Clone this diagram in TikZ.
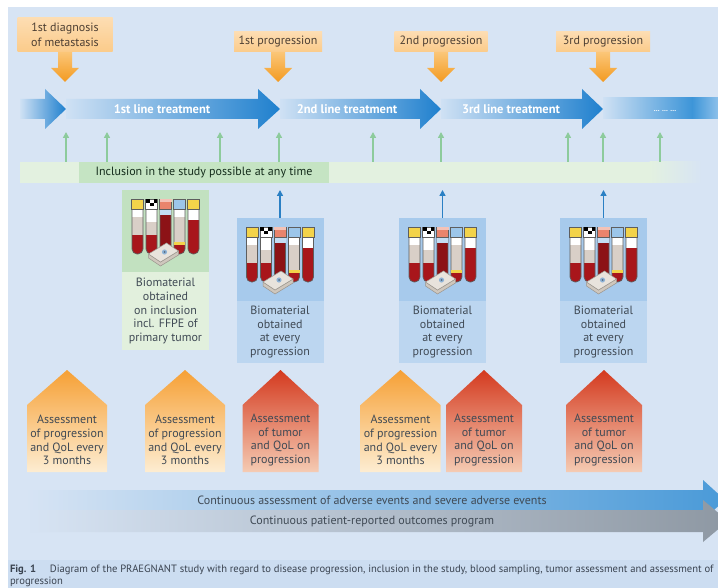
\documentclass[tikz,border=0pt]{standalone}
\usepackage{fontspec}
\setmainfont{PT Sans}
\usetikzlibrary{arrows.meta}

% palette
\definecolor{bg}{HTML}{D7E4F4}
\definecolor{capbg}{HTML}{CCDDF1}
\definecolor{lblA}{HTML}{FDDDB2}
\definecolor{lblB}{HTML}{FBCB8A}
\definecolor{arrA}{HTML}{FBC678}
\definecolor{arrB}{HTML}{F39A20}
\definecolor{tlight}{HTML}{CFE1F4}
\definecolor{tdark}{HTML}{1F80CE}
\definecolor{tmid}{HTML}{3D95D8}
\definecolor{tend}{HTML}{8CC0EA}
\definecolor{gArrow}{HTML}{8DCB9C}
\definecolor{inclLight}{HTML}{E3F1E0}
\definecolor{inclDark}{HTML}{C5E4C3}
\definecolor{bArrow}{HTML}{2B80C4}
\definecolor{bioGimg}{HTML}{C2E1C0}
\definecolor{bioGtxt}{HTML}{E2F0DD}
\definecolor{bioBimg}{HTML}{A7CAEC}
\definecolor{bioBtxt}{HTML}{BCD6F0}
\definecolor{oTop}{HTML}{F6A035}
\definecolor{oMid}{HTML}{FCD9A2}
\definecolor{oBot}{HTML}{FDEDD2}
\definecolor{rTop}{HTML}{D43A1F}
\definecolor{rMid}{HTML}{EC9C7C}
\definecolor{rBot}{HTML}{F5CBB3}
\definecolor{aeBlue}{HTML}{4A9AD8}
\definecolor{proGray}{HTML}{8E98A3}
\definecolor{txt}{HTML}{404A55}
\definecolor{lbltxt}{HTML}{4D3F33}
\definecolor{captxt}{HTML}{3A4350}
\definecolor{capYellow}{HTML}{F3D34A}
\definecolor{capSalmon}{HTML}{E9846C}
\definecolor{capBlue}{HTML}{9CC6EA}
\definecolor{pale}{HTML}{D9CFC7}
\definecolor{blood}{HTML}{A8161B}
\definecolor{bloodDark}{HTML}{8C1216}
\definecolor{tubeEdge}{HTML}{5E5E5E}
\definecolor{cassTop}{HTML}{E8E3DC}
\definecolor{cassSide}{HTML}{CFC7BD}
\definecolor{cassEdge}{HTML}{9A948C}
\definecolor{spot}{HTML}{8FB3D6}

\newcommand\fsz[2]{\fontsize{#1}{#2}\selectfont}

% one sample tube: #1 x offset, #2 cap colour, #3 end of clear part,
% #4 end of pale part, #5 blood colour
\newcommand\sampletube[5]{%
  \begin{scope}
    \clip (#1-5.5,17) [rounded corners=5pt] -- (#1-5.5,64) -- (#1+5.5,64)
          [sharp corners] -- (#1+5.5,17) -- cycle;
    \fill[white] (#1-6,17) rectangle (#1+6,#3);
    \fill[pale] (#1-6,#3) rectangle (#1+6,#4);
    \fill[#5] (#1-6,#4) rectangle (#1+6,66);
  \end{scope}
  \draw[tubeline] (#1-5.5,17) [rounded corners=5pt] -- (#1-5.5,64) -- (#1+5.5,64)
        [sharp corners] -- (#1+5.5,17);
  \fill[#2] (#1-6,9) rectangle (#1+6,19);
  \draw[tubeline] (#1-6,9) rectangle (#1+6,19);
}

% set of five tubes plus a tissue cassette, hung below a given anchor
\newcommand\bioTubes[1]{%
  \begin{scope}[shift={(#1)}]
    \sampletube{-28}{capYellow}{27}{45}{blood}
    \sampletube{-14}{white}{32}{45}{blood}
    \fill[black] (-20,9) rectangle (-16,13);
    \fill[black] (-12,9) rectangle (-8.5,13);
    \fill[black] (-16,13) rectangle (-12,16);
    \sampletube{0}{capSalmon}{25}{25}{bloodDark}
    \fill[capBlue!60!white] (-5.5,20) rectangle (5.5,25);
    \fill[capSalmon!50!white] (-6,9) rectangle (6,12);
    \sampletube{14}{capBlue}{27}{52}{blood}
    \fill[capYellow] (8.5,52) rectangle (19.5,55);
    \sampletube{28}{capYellow}{30}{30}{blood}
    \begin{scope}[shift={(-2,62)}]
      \filldraw[fill=cassSide, draw=cassEdge, line width=0.5pt]
        (-15,2) -- (-3,10) -- (15,-1) -- (15,3) -- (-3,14) -- (-15,6) -- cycle;
      \filldraw[fill=cassTop, draw=cassEdge, line width=0.5pt]
        (-15,2) -- (3,-9) -- (15,-1) -- (-3,10) -- cycle;
      \fill[spot] (1,0) circle (2.6pt);
      \fill[spot!60!black] (1,0) circle (1pt);
    \end{scope}
  \end{scope}
}

% orange arrow hanging below a label
\newcommand\dropArrow[1]{%
  \shade[top color=arrA, bottom color=arrB]
    ([xshift=-7pt]#1.south) -- ++(0,16) -- ++(-7,0) -- ++(14,14)
    -- ++(14,-14) -- ++(-7,0) -- ++(0,-16) -- cycle;
}

% house-shaped assessment box: #1 centre x, #2 half width, #3 colour prefix
\newcommand\houseShape[3]{%
  \shade[top color=#3Top, middle color=#3Mid, bottom color=#3Bot]
    (#1-#2,472) -- (#1-#2,405) -- (#1,370) -- (#1+#2,405) -- (#1+#2,472) -- cycle;
}

\tikzset{
  toplabel/.style={shade, top color=lblA, bottom color=lblB, text=lbltxt,
    align=center, font=\fsz{12}{14.5}, minimum height=20pt},
  treatlabel/.style={text=white, font=\bfseries\fsz{12.5}{14}},
  inclarrow/.style={draw=gArrow, line width=1.6pt,
    -{Triangle[width=6pt,length=6pt]}},
  bioarrow/.style={draw=bArrow, line width=1.6pt,
    -{Triangle[width=6pt,length=6pt]}, shorten >=7pt},
  bioimg/.style={minimum width=87pt},
  biotext/.style={minimum width=87pt, anchor=north, text=txt, align=center,
    font=\fsz{12}{13.8}},
  housetext/.style={text=txt, align=center, font=\fsz{12}{13.7}},
  bandtext/.style={text=txt, font=\fsz{12}{14}},
  tubeline/.style={draw=tubeEdge, line width=0.7pt},
  captext/.style={anchor=base west, text=captxt, font=\fsz{10.6}{12}},
}

\begin{document}
\begin{tikzpicture}[x=1pt, y=-1pt, every node/.append style={inner sep=0pt, outer sep=0pt}]
\useasboundingbox (0,0) rectangle (718,588);
\clip (0,0) rectangle (718,588);
\fill[white] (0,0) rectangle (718,588);
\fill[bg] (8,7) rectangle (718,560);
\fill[capbg] (8,560) rectangle (718,588);

% ---------- events on top ----------
\node[toplabel, minimum width=95pt, minimum height=34pt] (diag) at (65,35)
  {1st diagnosis\\of metastasis};
\node[toplabel, minimum width=88pt] (prog1) at (278,42) {1st progression};
\node[toplabel, minimum width=93pt] (prog2) at (441,42) {2nd progression};
\node[toplabel, minimum width=94pt] (prog3) at (603,42) {3rd progression};
\dropArrow{diag}
\dropArrow{prog1}
\dropArrow{prog2}
\dropArrow{prog3}

% ---------- treatment lines ----------
\shade[left color=tlight, right color=tdark]
  (20,99) -- (45,99) -- (45,89) -- (66,109) -- (45,129) -- (45,119) -- (20,119) -- cycle;
\shade[left color=tlight, right color=tdark]
  (66,99) -- (258,99) -- (258,89) -- (280,109) -- (258,129) -- (258,119) -- (66,119) -- cycle;
\shade[left color=tlight, right color=tdark]
  (280,99) -- (420,99) -- (420,89) -- (441,109) -- (420,129) -- (420,119) -- (280,119) -- cycle;
\shade[left color=tlight, right color=tdark]
  (441,99) -- (582,99) -- (582,89) -- (603,109) -- (582,129) -- (582,119) -- (441,119) -- cycle;
\shade[left color=tlight, right color=tmid] (603,98) rectangle (692,119);
\shade[left color=tmid, right color=tend] (692,98) rectangle (718,119);
\node[treatlabel] (line1) at (162,109) {1st line treatment};
\node[treatlabel] (line2) at (347,109) {2nd line treatment};
\node[treatlabel] (line3) at (511,109) {3rd line treatment};
\node[treatlabel, font=\bfseries\fsz{7.5}{8}] (line4) at (665,111) {... ... ...};
\coordinate (treatbase) at (0,132);

% ---------- inclusion ----------
\node[fill=inclLight, minimum width=630pt, minimum height=21pt] (inclband) at (335,172.5) {};
\shade[left color=inclLight, right color=bg] (649.5,162) rectangle (702,183);
\node[fill=inclDark, minimum width=250pt, minimum height=21pt, text=txt!80!green!40!black,
  font=\fsz{12}{14}] (incltext) at (204,172.5) {Inclusion in the study possible at any time};
\foreach \gx in {66,107,220,279,373,441,568,603,660}
  \draw[inclarrow] (\gx,0 |- inclband.north) -- (\gx,0 |- treatbase);

% ---------- biomaterial ----------
\node[bioimg, fill=bioGimg, minimum height=82pt] (bio1img) at (165.5,231) {};
\node[biotext, fill=bioGtxt, minimum height=78pt] (bio1txt) at (bio1img.south)
  {Biomaterial\\obtained\\on inclusion\\incl. FFPE of\\primary tumor};
\bioTubes{bio1img.north}

\foreach \n/\bx in {2/280, 3/442.5, 4/603.5}{
  \node[bioimg, fill=bioBimg, minimum height=83pt] (bio\n img) at (\bx,259.5) {};
  \node[biotext, fill=bioBtxt, minimum height=62pt] (bio\n txt) at (bio\n img.south)
    {Biomaterial\\obtained\\at every\\progression};
  \bioTubes{bio\n img.north}
  \draw[bioarrow] (bio\n img.north) -- (bio\n img.north |- inclband.south);
}

% ---------- assessments ----------
\houseShape{67}{40}{o}
\houseShape{185}{40}{o}
\houseShape{280.5}{38}{r}
\houseShape{400.5}{40}{o}
\houseShape{484}{38}{r}
\houseShape{604}{38}{r}
\node[housetext] (as1) at (67,440) {Assessment\\of progression\\and QoL every\\3 months};
\node[housetext] (as2) at (185,440) {Assessment\\of progression\\and QoL every\\3 months};
\node[housetext] (as3) at (280.5,440) {Assessment\\of tumor\\and QoL on\\progression};
\node[housetext] (as4) at (400.5,440) {Assessment\\of progression\\and QoL every\\3 months};
\node[housetext] (as5) at (484,440) {Assessment\\of tumor\\and QoL on\\progression};
\node[housetext] (as6) at (604,440) {Assessment\\of tumor\\and QoL on\\progression};

% ---------- continuous programmes ----------
\shade[left color=bg, right color=aeBlue]
  (25,490) -- (703,490) -- (703,480) -- (725,500) -- (703,520) -- (703,510) -- (25,510) -- cycle;
\node[bandtext] (ae) at (372,500)
  {Continuous assessment of adverse events and severe adverse events};
\shade[left color=bg, right color=proGray]
  (25,510) -- (703,510) -- (703,500) -- (728,521) -- (703,542) -- (703,532) -- (25,532) -- cycle;
\node[bandtext] (pro) at (372,521) {Continuous patient-reported outcomes program};

% ---------- caption ----------
\node[captext] (cap1) at (10,572)
  {\textbf{Fig. 1}\hspace{1.3em}Diagram of the PRAEGNANT study with regard to disease progression, inclusion in the study, blood sampling, tumor assessment and assessment of};
\node[captext] (cap2) at (10,584.5) {progression};
\end{tikzpicture}
\end{document}
